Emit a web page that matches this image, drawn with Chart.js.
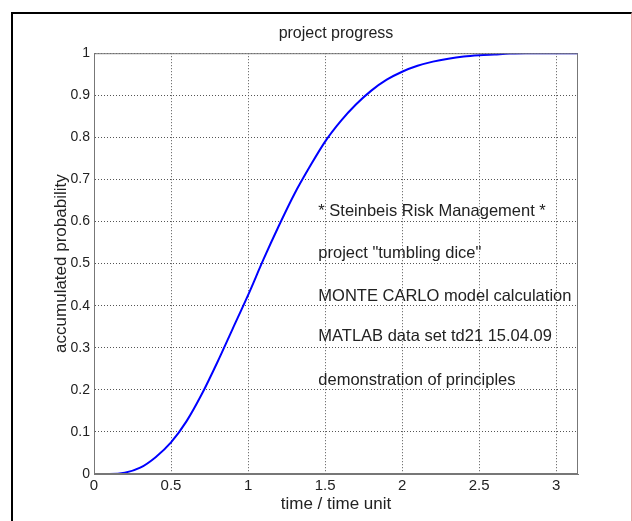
<!DOCTYPE html>
<html>
<head>
<meta charset="utf-8">
<script src="https://cdn.jsdelivr.net/npm/chart.js@4/dist/chart.umd.min.js"></script>
<style>
  html, body { margin: 0; padding: 0; background: #fff; overflow: hidden; }
  #frame {
    position: absolute; left: 11px; top: 12px; width: 618px; height: 600px;
    border-left: 2px solid #000; border-top: 2px solid #000; border-right: 1px solid #e6a8a8;
  }
  #wrap { position: absolute; left: 0; top: 0; width: 632px; height: 521px; }
</style>
</head>
<body>
<div id="frame"></div>
<div id="wrap"><canvas id="progressChart" width="632" height="521"></canvas></div>
<script>
// accumulated probability of project completion
const times = [0, 0.1, 0.2, 0.3, 0.4, 0.5, 0.6, 0.7, 0.8, 0.9, 1.0, 1.1, 1.2, 1.3, 1.4, 1.5,
  1.6, 1.7, 1.8, 1.9, 2.0, 2.1, 2.2, 2.3, 2.4, 2.5, 2.6, 2.7, 2.8, 2.9, 3.0, 3.1416];
const probs = [0, 0, 0.003, 0.015, 0.04, 0.075, 0.125, 0.19, 0.265, 0.345, 0.425, 0.51, 0.59, 0.665, 0.73, 0.79,
  0.838, 0.878, 0.911, 0.937, 0.956, 0.97, 0.98, 0.987, 0.992, 0.995, 0.997, 0.999, 1, 1, 1, 1];

// text block inside the axes
const notes = [
  '* Steinbeis Risk Management *',
  'project "tumbling dice"',
  'MONTE CARLO model calculation',
  'MATLAB data set td21 15.04.09',
  'demonstration of principles'
];
const noteX = 1.456;
const noteY = [0.623, 0.523, 0.423, 0.326, 0.223];

const points = times.map((t, i) => ({ x: t, y: probs[i] }));
const fontFam = '"Liberation Sans", Arial, sans-serif';
const fmt = v => String(+v.toFixed(2));

// box around the axes + text annotations
const extras = {
  id: 'extras',
  afterDatasetsDraw(chart) {
    const { ctx, chartArea, scales } = chart;
    ctx.save();
    ctx.font = '16.5px ' + fontFam;
    ctx.fillStyle = '#222';
    ctx.textBaseline = 'middle';
    ctx.textAlign = 'left';
    notes.forEach((txt, i) => {
      ctx.fillText(txt, scales.x.getPixelForValue(noteX), scales.y.getPixelForValue(noteY[i]));
    });
    ctx.strokeStyle = '#777';
    ctx.lineWidth = 1;
    ctx.strokeRect(chartArea.left + 0.5, chartArea.top + 0.5,
      chartArea.right - chartArea.left - 1, chartArea.bottom - chartArea.top - 1);
    ctx.restore();
  }
};

const ctx = document.getElementById('progressChart').getContext('2d');
new Chart(ctx, {
  type: 'line',
  data: {
    datasets: [{
      data: points,
      borderColor: '#0000ff',
      borderWidth: 2,
      pointRadius: 0,
      fill: false,
      cubicInterpolationMode: 'monotone'
    }]
  },
  options: {
    responsive: false,
    animation: false,
    layout: { padding: { top: 0, left: 40, right: 0, bottom: 0 } },
    plugins: {
      legend: { display: false },
      tooltip: { enabled: false },
      title: {
        display: true,
        text: 'project progress',
        color: '#222',
        font: { family: fontFam, size: 16, weight: 'normal' },
        padding: { top: 24, bottom: 10 }
      }
    },
    scales: {
      x: {
        type: 'linear',
        min: 0,
        max: Math.PI,
        afterFit(s) { s.height = 47; },
        ticks: {
          stepSize: 0.5,
          includeBounds: false,
          padding: 3,
          color: '#222',
          font: { family: fontFam, size: 15 },
          callback: fmt
        },
        grid: { color: '#555', drawTicks: false },
        border: { color: '#777', dash: [1, 2] },
        title: {
          display: true,
          text: 'time / time unit',
          color: '#222',
          font: { family: fontFam, size: 17 },
          padding: { top: 0, bottom: 6 }
        }
      },
      y: {
        min: 0,
        max: 1,
        afterFit(s) { s.width = 54; },
        ticks: {
          stepSize: 0.1,
          padding: 4,
          color: '#222',
          font: { family: fontFam, size: 14 },
          callback: fmt
        },
        grid: { color: '#555', drawTicks: false },
        border: { color: '#777', dash: [1, 2] },
        title: {
          display: true,
          text: 'accumulated probability',
          color: '#222',
          font: { family: fontFam, size: 17 },
          padding: { top: 11, bottom: 0 }
        }
      },
      // empty right axis, only reserves the margin on the right
      yRight: {
        position: 'right',
        min: 0,
        max: 1,
        afterFit(s) { s.width = 54; },
        ticks: { display: false },
        grid: { display: false },
        border: { display: false }
      }
    }
  },
  plugins: [extras]
});
</script>
</body>
</html>
